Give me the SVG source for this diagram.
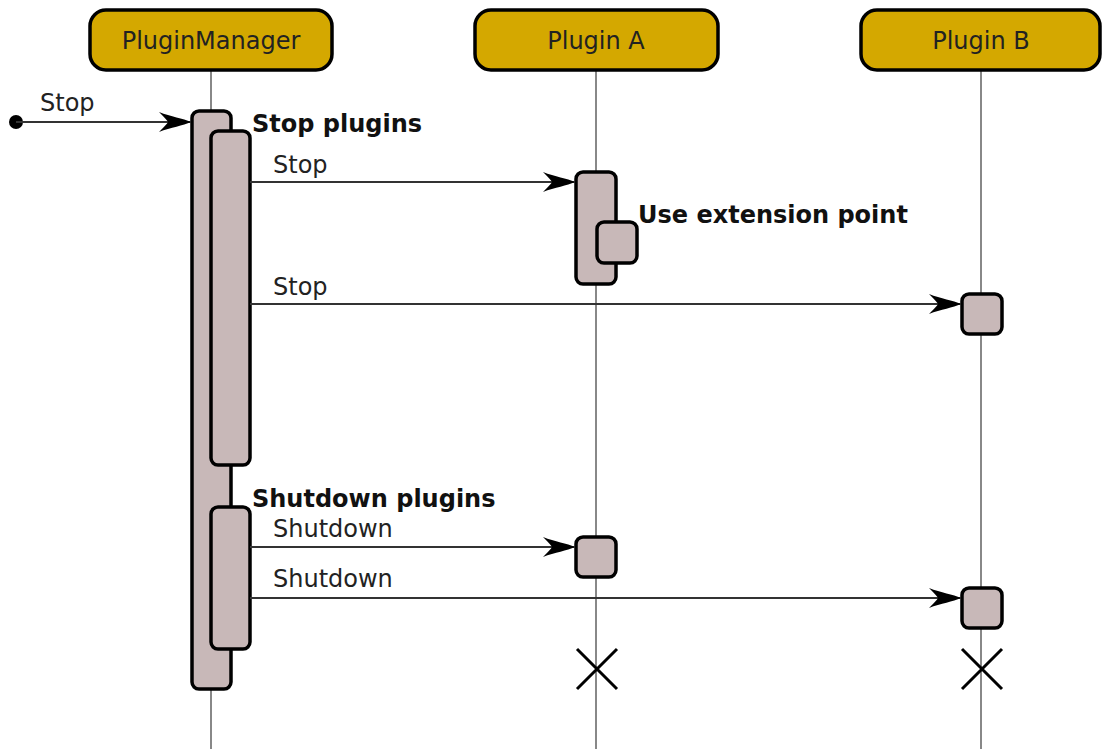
<svg xmlns="http://www.w3.org/2000/svg" width="1102" height="749" viewBox="0 0 1102 749">
<style>
.head{fill:#d4a800;stroke:#000;stroke-width:3.5}
.ht{font-family:"DejaVu Sans",sans-serif;font-size:24px;fill:#222;text-anchor:middle}
.life{stroke:#888;stroke-width:2;fill:none}
.act{fill:#c8b8b8;stroke:#000;stroke-width:3.5}
.msg{stroke:#333;stroke-width:2;fill:none;marker-end:url(#ah)}
.lbl{font-family:"DejaVu Sans",sans-serif;font-size:24px;fill:#222}
.bold{font-family:"DejaVu Sans",sans-serif;font-size:24px;font-weight:bold;fill:#111}
.x{stroke:#000;stroke-width:3;fill:none}
</style>
<defs>
<marker id="ah" markerUnits="userSpaceOnUse" markerWidth="34" markerHeight="22" viewBox="-33 -11 34 22" refX="0" refY="0" orient="auto" overflow="visible">
<path d="M0,0 C-8,-4 -20,-5 -32,-10 Q-24,-2 -23,0 Q-24,2 -32,10 C-20,5 -8,4 0,0 Z" fill="#000"/>
</marker>
</defs>
<rect width="1102" height="749" fill="#fff"/>
<g id="lifelines">
<line class="life" x1="211" y1="70" x2="211" y2="749"/>
<line class="life" x1="596" y1="70" x2="596" y2="749"/>
<line class="life" x1="981" y1="70" x2="981" y2="749"/>
</g>
<g id="PluginManager">
<rect class="head" x="90" y="10" width="242" height="60" rx="16"/>
<text class="ht" x="211" y="49">PluginManager</text>
<rect class="act" x="192" y="111" width="39" height="578" rx="7"/>
<rect class="act" x="211" y="131" width="39" height="334" rx="7"/>
<rect class="act" x="211" y="507" width="39" height="142" rx="7"/>
</g>
<g id="PluginA">
<rect class="head" x="475" y="10" width="243" height="60" rx="16"/>
<text class="ht" x="596" y="49">Plugin A</text>
<rect class="act" x="576" y="172" width="40" height="112" rx="7"/>
<rect class="act" x="597" y="222" width="40" height="41" rx="7"/>
<rect class="act" x="576" y="537" width="40" height="40" rx="7"/>
<path class="x" d="M577,649 L617,689 M617,649 L577,689"/>
</g>
<g id="PluginB">
<rect class="head" x="861" y="10" width="239" height="60" rx="16"/>
<text class="ht" x="981" y="49">Plugin B</text>
<rect class="act" x="962" y="294" width="40" height="40" rx="7"/>
<rect class="act" x="962" y="588" width="40" height="40" rx="7"/>
<path class="x" d="M962,649 L1002,689 M1002,649 L962,689"/>
</g>
<g id="connectors">
<circle cx="16" cy="122" r="7" fill="#000"/>
<line class="msg" x1="16" y1="122" x2="191" y2="122"/>
<line class="msg" x1="250" y1="182" x2="575" y2="182"/>
<line class="msg" x1="250" y1="304" x2="961" y2="304"/>
<line class="msg" x1="250" y1="547" x2="575" y2="547"/>
<line class="msg" x1="250" y1="598" x2="961" y2="598"/>
</g>
<g id="labels">
<text class="lbl" x="40" y="111">Stop</text>
<text class="bold" x="252" y="132">Stop plugins</text>
<text class="lbl" x="273" y="173">Stop</text>
<text class="bold" x="638" y="223">Use extension point</text>
<text class="lbl" x="273" y="295">Stop</text>
<text class="bold" x="252" y="507">Shutdown plugins</text>
<text class="lbl" x="273" y="537">Shutdown</text>
<text class="lbl" x="273" y="587">Shutdown</text>
</g>
</svg>
